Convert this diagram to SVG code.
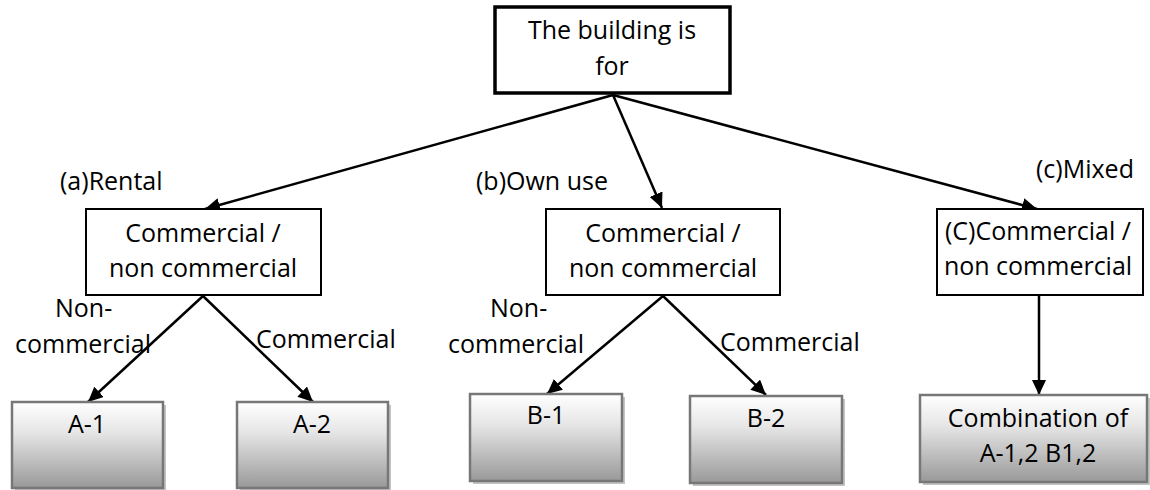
<svg xmlns="http://www.w3.org/2000/svg" width="1150" height="490" viewBox="0 0 1150 490">
<style>
text{font-family:"Open Sans","Liberation Sans",sans-serif;font-size:25px;fill:#000}
.c{text-anchor:middle}
.box{fill:#fff;stroke:#000;stroke-width:2}
.top{fill:#fff;stroke:#000;stroke-width:3.5}
.leaf{fill:url(#g);stroke:#777;stroke-width:2.5}
.sh{fill:#c4c4c4}
.conn line{stroke:#000;stroke-width:2.5;marker-end:url(#ah)}
</style>
<defs>
<linearGradient id="g" x1="0" y1="0" x2="0" y2="1">
<stop offset="0" stop-color="#ffffff"/>
<stop offset="0.35" stop-color="#e6e6e6"/>
<stop offset="1" stop-color="#999999"/>
</linearGradient>
<marker id="ah" markerUnits="userSpaceOnUse" markerWidth="16" markerHeight="14" refX="15" refY="7" orient="auto">
<path d="M0,0 L15,7 L0,14 z" fill="#000"/>
</marker>
</defs>
<rect width="1150" height="490" fill="#fff"/>
<g class="conn">
<line x1="613" y1="95" x2="205" y2="209"/>
<line x1="613" y1="95" x2="662" y2="208"/>
<line x1="613" y1="95" x2="1037" y2="209"/>
<line x1="203" y1="296" x2="88" y2="402"/>
<line x1="203" y1="296" x2="313" y2="402"/>
<line x1="663" y1="296" x2="547" y2="394"/>
<line x1="663" y1="296" x2="766" y2="395"/>
<line x1="1039" y1="296" x2="1039" y2="395"/>
</g>
<g id="root">
<rect class="top" x="495" y="7" width="235" height="86"/>
<text class="c" x="612" y="39">The building is</text>
<text class="c" x="612" y="75">for</text>
</g>
<g id="rental">
<rect class="box" x="86" y="209" width="235" height="86"/>
<text class="c" x="203" y="242">Commercial /</text>
<text class="c" x="203" y="277">non commercial</text>
</g>
<g id="ownuse">
<rect class="box" x="546" y="209" width="234" height="86"/>
<text class="c" x="663" y="242">Commercial /</text>
<text class="c" x="663" y="277">non commercial</text>
</g>
<g id="mixed">
<rect class="box" x="937" y="209" width="206" height="86"/>
<text class="c" x="1038" y="240">(C)Commercial /</text>
<text class="c" x="1038" y="275">non commercial</text>
</g>
<g id="labels">
<text x="60" y="190">(a)Rental</text>
<text x="476" y="190">(b)Own use</text>
<text x="1036" y="178">(c)Mixed</text>
<text x="55" y="317">Non-</text>
<text x="15" y="353">commercial</text>
<text x="256" y="348">Commercial</text>
<text x="490" y="317">Non-</text>
<text x="448" y="353">commercial</text>
<text x="720" y="351">Commercial</text>
</g>
<g id="a1">
<rect class="sh" x="15" y="405" width="151" height="86"/>
<rect class="leaf" x="12" y="402" width="151" height="86"/>
<text class="c" x="87" y="433">A-1</text>
</g>
<g id="a2">
<rect class="sh" x="240" y="405" width="151" height="86"/>
<rect class="leaf" x="237" y="402" width="151" height="86"/>
<text class="c" x="312" y="433">A-2</text>
</g>
<g id="b1">
<rect class="sh" x="473" y="397" width="152" height="87"/>
<rect class="leaf" x="470" y="394" width="152" height="87"/>
<text class="c" x="546" y="424">B-1</text>
</g>
<g id="b2">
<rect class="sh" x="693" y="399" width="152" height="87"/>
<rect class="leaf" x="690" y="396" width="152" height="87"/>
<text class="c" x="766" y="427">B-2</text>
</g>
<g id="combo">
<rect class="sh" x="923" y="398" width="228" height="87"/>
<rect class="leaf" x="920" y="395" width="227" height="87"/>
<text class="c" x="1038" y="427">Combination of</text>
<text class="c" x="1038" y="462">A-1,2 B1,2</text>
</g>
</svg>
